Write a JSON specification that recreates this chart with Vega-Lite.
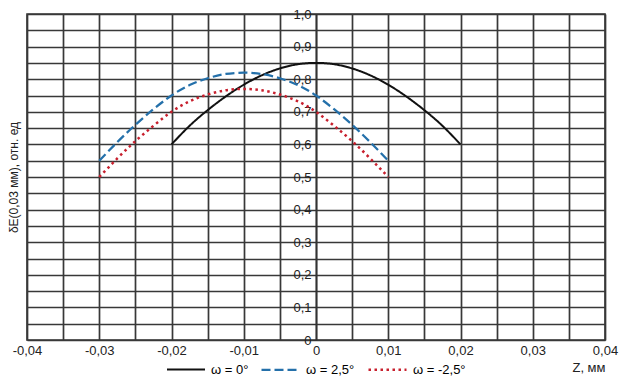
{
  "$schema": "https://vega.github.io/schema/vega-lite/v6.json",
  "width": 578,
  "height": 326,
  "autosize": {"type": "none"},
  "padding": {"left": 27, "top": 14, "right": 18, "bottom": 41},
  "background": "white",
  "config": {
    "font": "Liberation Sans",
    "view": {"stroke": "#333333", "strokeWidth": 1.6},
    "axis": {"gridColor": "#383838", "gridWidth": 1.7, "gridOpacity": 1, "labelColor": "#222222", "titleColor": "#222222", "labelFontSize": 13, "titleFontSize": 12, "titleFontWeight": "normal"}
  },
  "data": {
    "values": [
      {"w": "ω = 0°", "z": -0.02, "d": 0.60},
      {"w": "ω = 0°", "z": -0.0175, "d": 0.657},
      {"w": "ω = 0°", "z": -0.015, "d": 0.705},
      {"w": "ω = 0°", "z": -0.0125, "d": 0.747},
      {"w": "ω = 0°", "z": -0.01, "d": 0.783},
      {"w": "ω = 0°", "z": -0.0075, "d": 0.812},
      {"w": "ω = 0°", "z": -0.005, "d": 0.833},
      {"w": "ω = 0°", "z": -0.0025, "d": 0.846},
      {"w": "ω = 0°", "z": 0, "d": 0.85},
      {"w": "ω = 0°", "z": 0.0025, "d": 0.846},
      {"w": "ω = 0°", "z": 0.005, "d": 0.833},
      {"w": "ω = 0°", "z": 0.0075, "d": 0.812},
      {"w": "ω = 0°", "z": 0.01, "d": 0.783},
      {"w": "ω = 0°", "z": 0.0125, "d": 0.747},
      {"w": "ω = 0°", "z": 0.015, "d": 0.705},
      {"w": "ω = 0°", "z": 0.0175, "d": 0.657},
      {"w": "ω = 0°", "z": 0.02, "d": 0.60},
      {"w": "ω = 2,5°", "z": -0.03, "d": 0.55},
      {"w": "ω = 2,5°", "z": -0.0275, "d": 0.607},
      {"w": "ω = 2,5°", "z": -0.025, "d": 0.66},
      {"w": "ω = 2,5°", "z": -0.0225, "d": 0.708},
      {"w": "ω = 2,5°", "z": -0.02, "d": 0.75},
      {"w": "ω = 2,5°", "z": -0.0175, "d": 0.782},
      {"w": "ω = 2,5°", "z": -0.015, "d": 0.803},
      {"w": "ω = 2,5°", "z": -0.0125, "d": 0.816},
      {"w": "ω = 2,5°", "z": -0.01, "d": 0.82},
      {"w": "ω = 2,5°", "z": -0.0075, "d": 0.816},
      {"w": "ω = 2,5°", "z": -0.005, "d": 0.803},
      {"w": "ω = 2,5°", "z": -0.0025, "d": 0.782},
      {"w": "ω = 2,5°", "z": 0, "d": 0.75},
      {"w": "ω = 2,5°", "z": 0.0025, "d": 0.708},
      {"w": "ω = 2,5°", "z": 0.005, "d": 0.66},
      {"w": "ω = 2,5°", "z": 0.0075, "d": 0.607},
      {"w": "ω = 2,5°", "z": 0.01, "d": 0.55},
      {"w": "ω = -2,5°", "z": -0.03, "d": 0.50},
      {"w": "ω = -2,5°", "z": -0.0275, "d": 0.557},
      {"w": "ω = -2,5°", "z": -0.025, "d": 0.61},
      {"w": "ω = -2,5°", "z": -0.0225, "d": 0.657},
      {"w": "ω = -2,5°", "z": -0.02, "d": 0.70},
      {"w": "ω = -2,5°", "z": -0.0175, "d": 0.732},
      {"w": "ω = -2,5°", "z": -0.015, "d": 0.753},
      {"w": "ω = -2,5°", "z": -0.0125, "d": 0.766},
      {"w": "ω = -2,5°", "z": -0.01, "d": 0.77},
      {"w": "ω = -2,5°", "z": -0.0075, "d": 0.766},
      {"w": "ω = -2,5°", "z": -0.005, "d": 0.753},
      {"w": "ω = -2,5°", "z": -0.0025, "d": 0.732},
      {"w": "ω = -2,5°", "z": 0, "d": 0.70},
      {"w": "ω = -2,5°", "z": 0.0025, "d": 0.657},
      {"w": "ω = -2,5°", "z": 0.005, "d": 0.61},
      {"w": "ω = -2,5°", "z": 0.0075, "d": 0.557},
      {"w": "ω = -2,5°", "z": 0.01, "d": 0.50}
    ]
  },
  "mark": {"type": "line", "interpolate": "natural", "strokeCap": "butt"},
  "encoding": {
    "x": {
      "field": "z", "type": "quantitative",
      "scale": {"domain": [-0.04, 0.04], "nice": false, "zero": false},
      "axis": {
        "values": [-0.04, -0.035, -0.03, -0.025, -0.02, -0.015, -0.01, -0.005, 0, 0.005, 0.01, 0.015, 0.02, 0.025, 0.03, 0.035, 0.04],
        "labelExpr": "round(datum.value*200) % 2 != 0 ? '' : (abs(datum.value) < 1e-9 ? '0' : (datum.value < 0 ? '-' : '') + replace(format(abs(datum.value), '.2f'), '.', ','))",
        "domain": false, "ticks": false, "labelPadding": 4, "labelFlush": false,
        "title": "Z, мм", "titleAnchor": "end", "titlePadding": 4, "titleFontSize": 13
      }
    },
    "y": {
      "field": "d", "type": "quantitative",
      "scale": {"domain": [0, 1], "nice": false},
      "axis": {
        "values": [0, 0.05, 0.1, 0.15, 0.2, 0.25, 0.3, 0.35, 0.4, 0.45, 0.5, 0.55, 0.6, 0.65, 0.7, 0.75, 0.8, 0.85, 0.9, 0.95, 1],
        "labelExpr": "round(datum.value*20) % 2 != 0 ? '' : (datum.value < 1e-9 ? '0' : replace(format(datum.value, '.1f'), '.', ','))",
        "offset": -289, "domain": true, "domainColor": "#333333", "domainWidth": 1.7,
        "ticks": true, "tickSize": 4, "tickColor": "#333333", "labelPadding": 1, "labelFlush": false,
        "title": "δE(0,03 мм), отн. ед", "titleX": -303, "titleY": 163, "titleAngle": -90, "titleAlign": "center", "titleBaseline": "middle", "titleFontSize": 12
      }
    },
    "color": {
      "field": "w", "type": "nominal",
      "scale": {"domain": ["ω = 0°", "ω = 2,5°", "ω = -2,5°"], "range": ["#111111", "#2470aa", "#c8202e"]},
      "legend": {
        "title": null, "orient": "none", "legendX": 139, "legendY": 335, "direction": "horizontal",
        "symbolType": "stroke", "symbolSize": 1444, "symbolStrokeWidth": 2.5, "labelFontSize": 13, "labelOffset": 5, "columnPadding": 8
      }
    },
    "strokeDash": {
      "field": "w", "type": "nominal",
      "scale": {"domain": ["ω = 0°", "ω = 2,5°", "ω = -2,5°"], "range": [[1, 0], [9, 4], [2.5, 3.5]]}
    },
    "strokeWidth": {
      "field": "w", "type": "nominal",
      "scale": {"domain": ["ω = 0°", "ω = 2,5°", "ω = -2,5°"], "range": [2, 2.5, 3]},
      "legend": null
    }
  }
}
